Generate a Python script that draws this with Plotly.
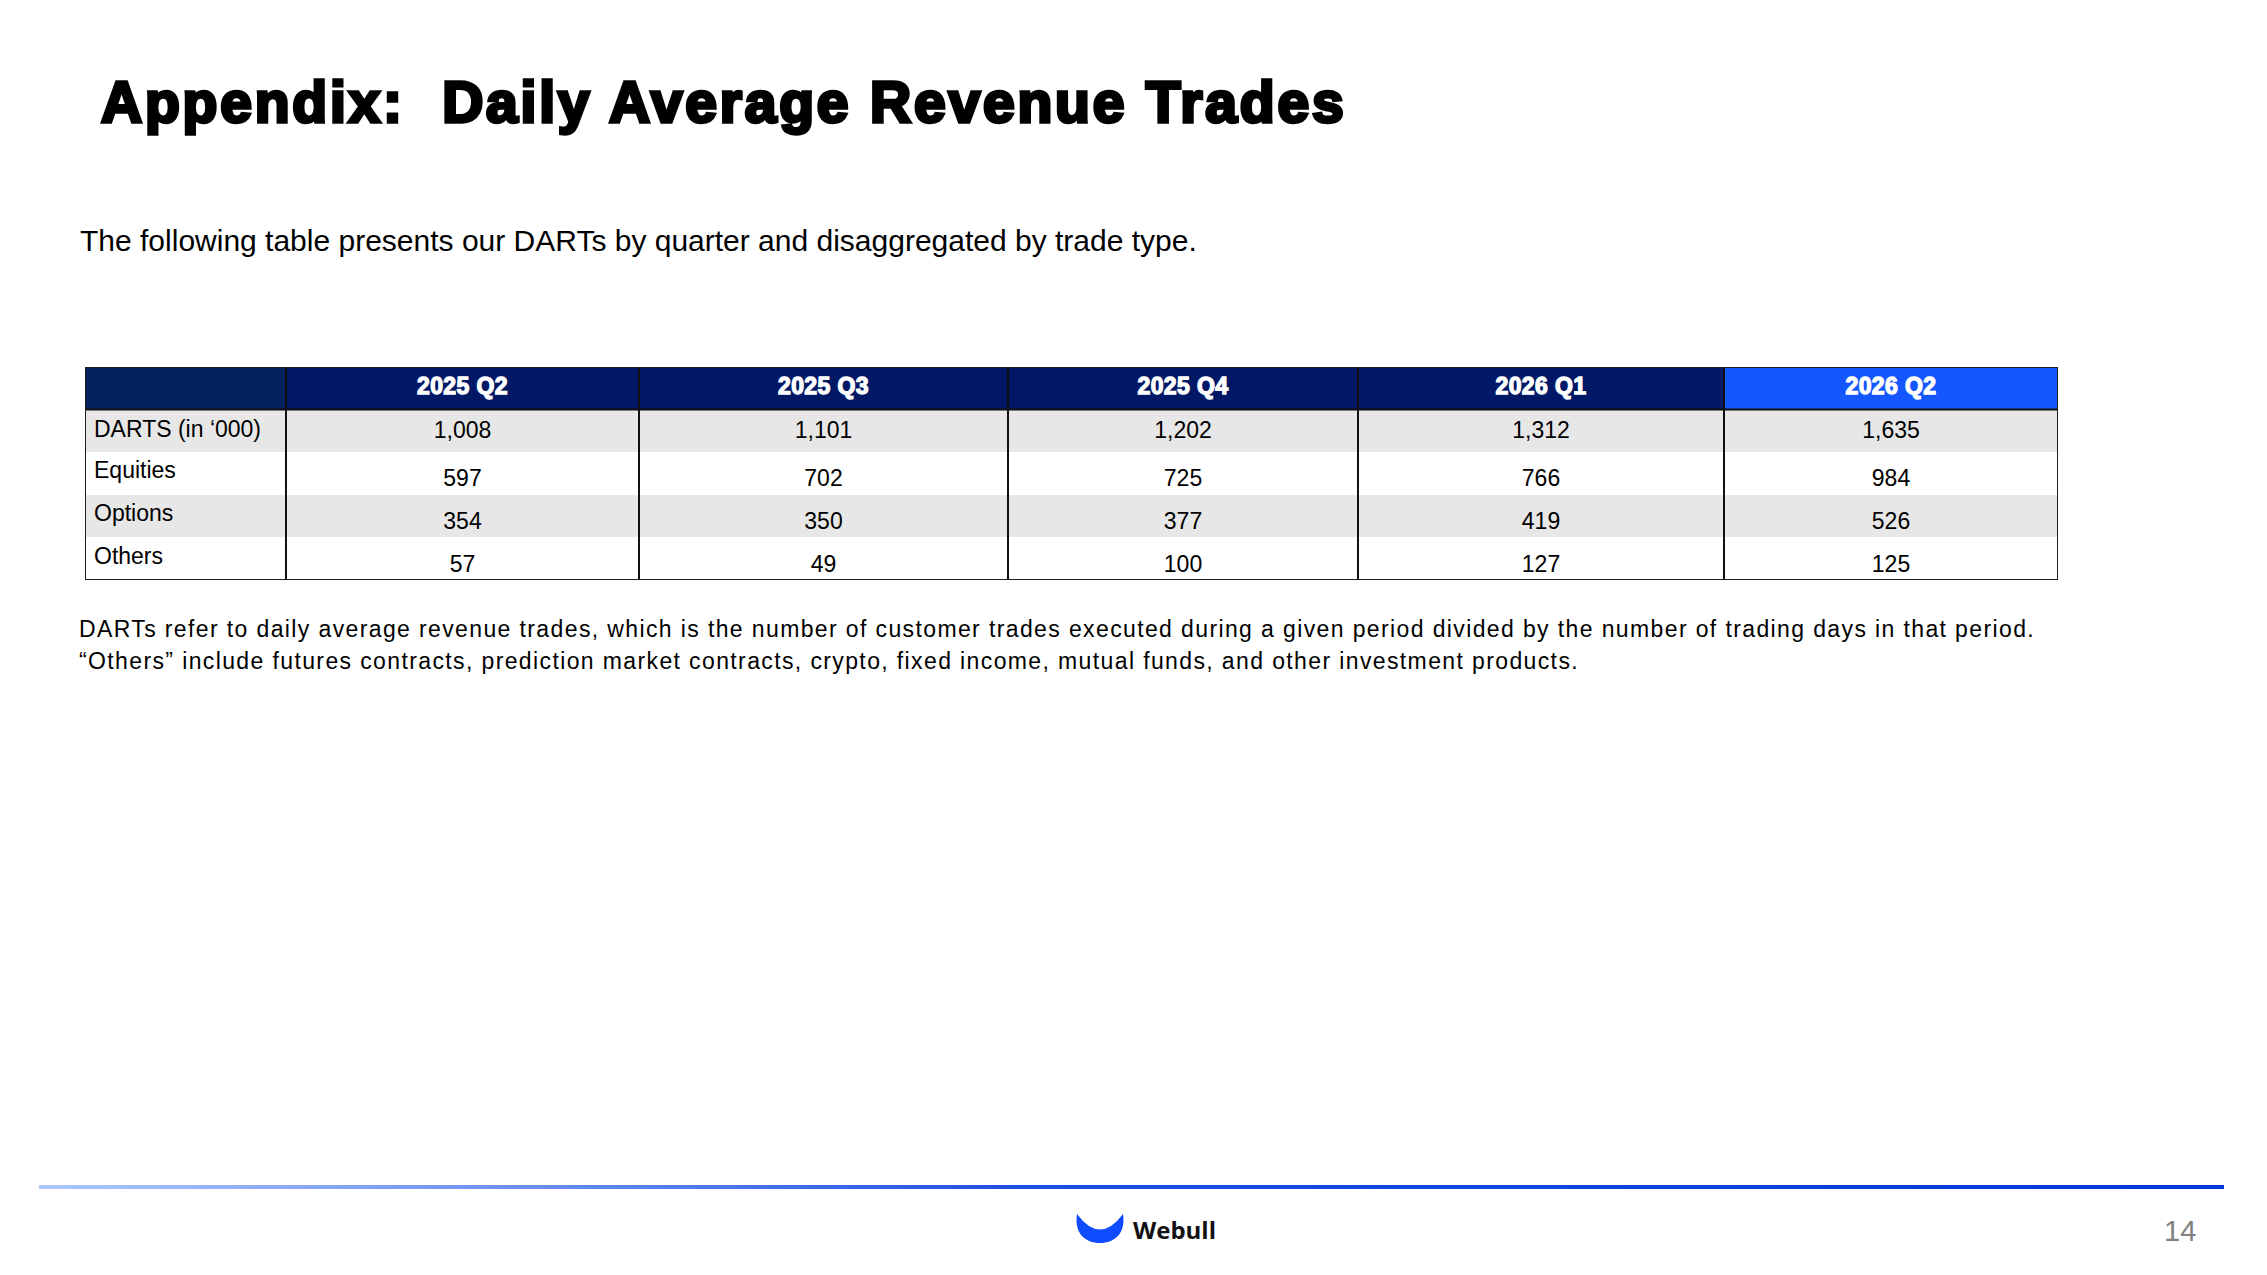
import plotly.graph_objects as go

# ---------------- data ----------------
quarters = ["2025 Q2", "2025 Q3", "2025 Q4", "2026 Q1", "2026 Q2"]
row_labels = ["DARTS (in ‘000)", "Equities", "Options", "Others"]
darts = [1008, 1101, 1202, 1312, 1635]
equities = [597, 702, 725, 766, 984]
options = [354, 350, 377, 419, 526]
others = [57, 49, 100, 127, 125]

title_text = "Appendix:\u00a0 Daily Average Revenue Trades"
subtitle_text = "The following table presents our DARTs by quarter and disaggregated by trade type."
note_line_1 = ("DARTs refer to daily average revenue trades, which is the number of customer trades "
               "executed during a given period divided by the number of trading days in that period.")
note_line_2 = ("“Others” include futures contracts, prediction market contracts, crypto, fixed income, "
               "mutual funds, and other investment products.")
page_number = "14"
brand_name = "Webull"

# ---------------- style ----------------
W, H = 2267, 1275
FONT = "Liberation Sans"
col_widths = [201, 353, 369, 350, 366, 334]          # label column + 5 quarter columns
table_left, table_top, table_bottom = 85, 367, 580
header_fills = ["#05215d", "#001866", "#001866", "#001866", "#001866", "#1457ff"]
body_fills = ["#e7e7e7", "#ffffff", "#e7e7e7", "#ffffff"]
label_dy = [0.0, -0.02, -0.02, -0.02]
value_dy = [0.02, 0.16, 0.16, 0.17]
header_dy = 0.01

rows_values = [darts, equities, options, others]
n_rows = 1 + len(row_labels)
total_w = sum(col_widths)
lefts = [sum(col_widths[:j]) for j in range(len(col_widths))]
centers = [lefts[j] + col_widths[j] / 2 for j in range(len(col_widths))]

fig = go.Figure()

# cell fills (one bar trace per column)
for j, w in enumerate(col_widths):
    fig.add_trace(go.Bar(
        orientation="h",
        y=list(range(n_rows)),
        x=[w] * n_rows,
        base=[lefts[j]] * n_rows,
        width=1.0,
        marker=dict(color=[header_fills[j]] + body_fills, line=dict(width=0)),
        hoverinfo="skip", showlegend=False,
    ))

# header text
hdr_style = "stroke:#ffffff;stroke-width:1.3px;letter-spacing:0.4px"
fig.add_trace(go.Scatter(
    x=centers[1:], y=[0 + header_dy] * len(quarters),
    mode="text",
    text=[f"<span style='{hdr_style}'>{q}</span>" for q in quarters],
    textposition="middle center",
    textfont=dict(family=FONT, size=23, color="#ffffff", weight="bold"),
    hoverinfo="skip", showlegend=False,
))

# row labels
fig.add_trace(go.Scatter(
    x=[9] * len(row_labels),
    y=[i + 1 + label_dy[i] for i in range(len(row_labels))],
    mode="text", text=row_labels, textposition="middle right",
    textfont=dict(family=FONT, size=23, color="#000000"),
    hoverinfo="skip", showlegend=False,
))

# values
for i, vals in enumerate(rows_values):
    fig.add_trace(go.Scatter(
        x=centers[1:], y=[i + 1 + value_dy[i]] * len(vals),
        mode="text", text=[f"{v:,}" for v in vals], textposition="middle center",
        textfont=dict(family=FONT, size=23, color="#000000"),
        hoverinfo="skip", showlegend=False,
    ))

# footer gradient rule (pixel axis)
fig.add_trace(go.Scatter(
    x=[39, 2224, 2224, 39], y=[1185, 1185, 1189, 1189],
    xaxis="x2", yaxis="y2", mode="none", fill="toself",
    fillgradient=dict(type="horizontal",
                      colorscale=[[0, "#adc6fc"], [0.22, "#6b90f3"], [0.45, "#1b4fe3"], [1, "#0037d6"]]),
    hoverinfo="skip", showlegend=False,
))

shapes = []
# vertical grid lines
for j in range(1, len(col_widths)):
    shapes.append(dict(type="line", xref="x", yref="y", x0=lefts[j], x1=lefts[j],
                       y0=-0.5, y1=n_rows - 0.5, line=dict(color="#111111", width=2)))
# header bottom rule
shapes.append(dict(type="line", xref="x", yref="y", x0=0, x1=total_w, y0=0.5, y1=0.5,
                   line=dict(color="#111111", width=2)))
# outer border
shapes.append(dict(type="rect", xref="x", yref="y", x0=0, x1=total_w, y0=-0.5, y1=n_rows - 0.5,
                   line=dict(color="#1e1e1e", width=2), fillcolor="rgba(0,0,0,0)"))
# logo mark
shapes.append(dict(type="path", xref="x2", yref="y2",
                   path="M 1077 1214 Q 1100 1245 1123 1214 C 1126 1233 1115 1243 1100 1243 "
                        "C 1085 1243 1074 1233 1077 1214 Z",
                   fillcolor="#0f4bff", line=dict(width=0)))

annotations = [
    dict(x=99, y=102, text=f"<span style='stroke:#000000;stroke-width:3.4px;letter-spacing:2.8px'>{title_text}</span>",
         font=dict(family=FONT, size=57, color="#000000", weight="bold")),
    dict(x=78, y=240, text=subtitle_text, font=dict(family=FONT, size=30, color="#000000")),
    dict(x=77, y=629, text=f"<span style='letter-spacing:1.38px'>{note_line_1}</span>",
         font=dict(family=FONT, size=23, color="#000000")),
    dict(x=77, y=661, text=f"<span style='letter-spacing:1.38px'>{note_line_2}</span>",
         font=dict(family=FONT, size=23, color="#000000")),
    dict(x=1131, y=1229, text=brand_name, font=dict(family="Open Sans", size=24, color="#111111", weight="bold")),
    dict(x=2180, y=1231, text=page_number, xanchor="center", font=dict(family=FONT, size=29, color="#7f7f7f")),
]
for a in annotations:
    a.setdefault("xanchor", "left")
    a.update(xref="x2", yref="y2", yanchor="middle", showarrow=False)

fig.update_layout(
    width=W, height=H, margin=dict(l=0, r=0, t=0, b=0),
    paper_bgcolor="#ffffff", plot_bgcolor="rgba(0,0,0,0)",
    barmode="overlay", bargap=0,
    xaxis=dict(domain=[table_left / W, (table_left + total_w) / W], range=[0, total_w],
               visible=False, fixedrange=True),
    yaxis=dict(domain=[1 - table_bottom / H, 1 - table_top / H], range=[n_rows - 0.5, -0.5],
               visible=False, fixedrange=True),
    xaxis2=dict(domain=[0, 1], range=[0, W], visible=False, anchor="y2", fixedrange=True),
    yaxis2=dict(domain=[0, 1], range=[H, 0], visible=False, anchor="x2", fixedrange=True),
    shapes=shapes, annotations=annotations,
)

fig.write_html("out.html", config={"displayModeBar": False},
               post_script="document.body.style.margin='0';document.body.style.overflow='hidden';")
